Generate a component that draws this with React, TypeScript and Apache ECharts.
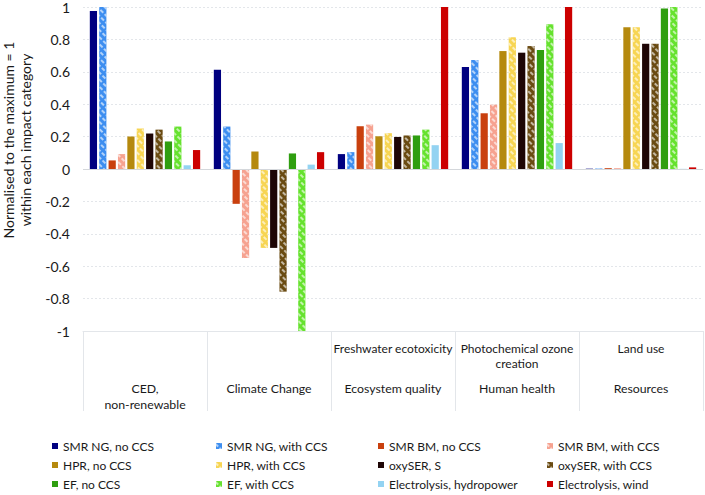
import React, { useEffect, useRef } from "react";
import * as echarts from "echarts";

const topLabels = ["", "", "Freshwater ecotoxicity", "Photochemical ozone\ncreation", "Land use"];
const bottomLabels = ["CED,\nnon-renewable", "Climate Change", "Ecosystem quality", "Human health", "Resources"];
const yTicks = [-1, -0.8, -0.6, -0.4, -0.2, 0, 0.2, 0.4, 0.6, 0.8, 1];

const seriesNames = [
  "SMR NG, no CCS", "SMR NG, with CCS", "SMR BM, no CCS", "SMR BM, with CCS",
  "HPR, no CCS", "HPR, with CCS", "oxySER, S", "oxySER, with CCS",
  "EF, no CCS", "EF, with CCS", "Electrolysis, hydropower", "Electrolysis, wind",
];

// values per category: CED, Climate Change, Freshwater ecotox, Photochem ozone, Land use
const smrNgNoCcs = [0.975, 0.612, 0.092, 0.63, 0.002];
const smrNgCcs = [1.0, 0.262, 0.104, 0.673, 0.003];
const smrBmNoCcs = [0.053, -0.215, 0.264, 0.344, 0.005];
const smrBmCcs = [0.092, -0.55, 0.274, 0.397, 0.005];
const hprNoCcs = [0.2, 0.108, 0.202, 0.728, 0.875];
const hprCcs = [0.25, -0.487, 0.221, 0.814, 0.875];
const oxySerS = [0.219, -0.487, 0.198, 0.718, 0.773];
const oxySerCcs = [0.243, -0.757, 0.207, 0.759, 0.773];
const efNoCcs = [0.17, 0.096, 0.207, 0.734, 0.99];
const efCcs = [0.262, -1.0, 0.243, 0.894, 1.0];
const elecHydro = [0.023, 0.027, 0.147, 0.16, 0.001];
const elecWind = [0.117, 0.104, 1.0, 1.0, 0.01];

const seriesValues = [
  smrNgNoCcs, smrNgCcs, smrBmNoCcs, smrBmCcs, hprNoCcs, hprCcs,
  oxySerS, oxySerCcs, efNoCcs, efCcs, elecHydro, elecWind,
];
const seriesColors = [
  "#000080", "#3d8ef0", "#c9400e", "#f6a290", "#b5890e", "#f7d553",
  "#1e0606", "#6a4b12", "#2f9e10", "#66e22e", "#93d3f2", "#cc0000",
];
const hatched = [false, true, false, true, false, true, false, true, false, true, false, false];

const FONT = "Lato, 'Liberation Sans', Arial, sans-serif";
const TXT = "#1a1a1a";

export default function App() {
  const ref = useRef<HTMLDivElement>(null);
  useEffect(() => {
    if (!ref.current) return;
    const chart = echarts.init(ref.current, null, { renderer: "svg" });
    const decal = {
      symbol: "rect",
      symbolSize: 1,
      dashArrayX: [[4, 2]],
      dashArrayY: [1.3, 2.7],
      rotation: Math.PI / 4,
      color: "rgba(255,255,255,0.6)",
    };
    const series: any[] = seriesNames.map((name, i) => ({
      name,
      type: "bar",
      xAxisIndex: 0,
      data: seriesValues[i],
      barGap: "30%",
      barCategoryGap: "11%",
      itemStyle: {
        color: seriesColors[i],
        decal: hatched[i] ? decal : undefined,
      },
      silent: true,
    }));
    series[0].markLine = {
      silent: true,
      symbol: "none",
      label: { show: false },
      lineStyle: { color: "#d4d7db", type: "solid", width: 1 },
      data: [{ yAxis: 0 }],
    };
    const legendCols = [52, 216, 378, 547];
    const legends = legendCols.map((left, c) => ({
      orient: "vertical",
      left,
      top: 439,
      height: 80,
      padding: 0,
      itemWidth: 6,
      itemHeight: 6,
      itemGap: 5,
      icon: "rect",
      selectedMode: false,
      data: [0, 1, 2].map((r) => seriesNames[r * 4 + c]),
      textStyle: { fontFamily: FONT, fontSize: 12, color: TXT, lineHeight: 14 },
    }));
    chart.setOption({
      animation: false,
      backgroundColor: "#ffffff",
      grid: { left: 83, right: 2, top: 6, bottom: 164, containLabel: false },
      legend: legends,
      xAxis: [
        {
          type: "category",
          data: topLabels,
          position: "bottom",
          axisLine: { show: true, onZero: false, lineStyle: { color: "#e3e6ea" } },
          axisTick: { show: true, length: 80, lineStyle: { color: "#e3e6ea" } },
          axisLabel: {
            margin: 10,
            fontFamily: FONT,
            fontSize: 12,
            color: TXT,
            lineHeight: 15,
            interval: 0,
          },
          splitLine: { show: false },
        },
        {
          type: "category",
          data: bottomLabels,
          position: "bottom",
          axisLine: { show: false, onZero: false },
          axisTick: { show: false },
          axisLabel: {
            margin: 49,
            fontFamily: FONT,
            fontSize: 12.3,
            color: TXT,
            lineHeight: 16,
            interval: 0,
          },
          splitLine: { show: false },
        },
      ],
      yAxis: {
        type: "value",
        min: yTicks[0],
        max: yTicks[yTicks.length - 1],
        interval: 0.2,
        axisLine: { show: false },
        axisTick: { show: false },
        axisLabel: {
          margin: 13,
          fontFamily: FONT,
          fontSize: 14,
          color: TXT,
          formatter: (v: number) => String(+v.toFixed(1)),
        },
        splitLine: { show: true, lineStyle: { color: "#e3e6ea", type: [2, 2], width: 1 } },
      },
      graphic: [
        {
          type: "text",
          x: 17,
          y: 140,
          rotation: Math.PI / 2,
          style: {
            text: "Normalised to the maximum = 1\nwithin each impact category",
            fontFamily: FONT,
            fontSize: 14,
            lineHeight: 17,
            fill: TXT,
            align: "center",
            verticalAlign: "middle",
          },
        },
      ],
      series,
    });
    return () => chart.dispose();
  }, []);
  return <div ref={ref} style={{ width: 705, height: 495, position: "absolute", left: 0, top: 0 }} />;
}
